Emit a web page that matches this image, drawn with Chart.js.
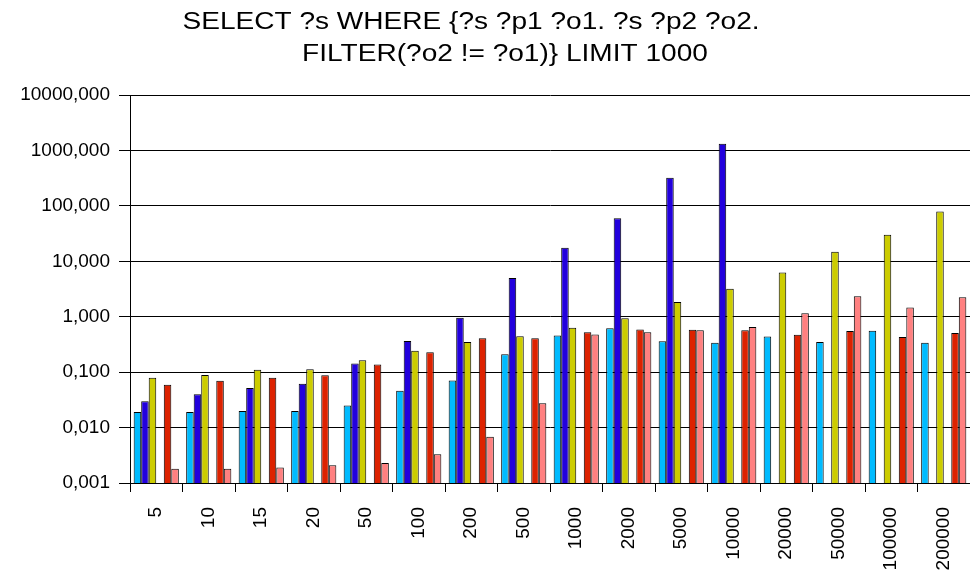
<!DOCTYPE html>
<html>
<head>
<meta charset="utf-8">
<script src="https://cdn.jsdelivr.net/npm/chart.js@4/dist/chart.umd.min.js"></script>
<style>
  body { margin: 0; background: #fff; }
  canvas { display: block; }
</style>
</head>
<body>
<canvas id="chart" width="970" height="575"></canvas>
<script>
const categories = ["5", "10", "15", "20", "50", "100", "200", "500", "1000", "2000", "5000", "10000", "20000", "50000", "100000", "200000"];

const seriesCyan = [0.019, 0.019, 0.020, 0.020, 0.025, 0.046, 0.071, 0.21, 0.46, 0.62, 0.36, 0.34, 0.44, 0.35, 0.56, 0.34];
const seriesBlue = [0.030, 0.040, 0.052, 0.062, 0.143, 0.366, 0.96, 5.0, 17.5, 60, 320, 1315, null, null, null, null];
const seriesYellow = [0.079, 0.089, 0.110, 0.113, 0.164, 0.244, 0.35, 0.445, 0.63, 0.94, 1.85, 3.2, 6.3, 14.8, 30, 79];
const seriesEmpty = [null, null, null, null, null, null, null, null, null, null, null, null, null, null, null, null];
const seriesRed = [0.059, 0.070, 0.079, 0.088, 0.137, 0.229, 0.41, 0.41, 0.525, 0.59, 0.58, 0.57, 0.475, 0.55, 0.43, 0.51];
const seriesPink = [0.0018, 0.0018, 0.0019, 0.0021, 0.0023, 0.0033, 0.0068, 0.0274, 0.48, 0.525, 0.57, 0.65, 1.16, 2.34, 1.46, 2.24];

const yTicks = [0.001, 0.01, 0.1, 1, 10, 100, 1000, 10000];

const titleLines = ["SELECT ?s WHERE {?s ?p1 ?o1. ?s ?p2 ?o2.", "FILTER(?o2 != ?o1)} LIMIT 1000"];

const bar = (data, color) => ({
  data: data,
  backgroundColor: color,
  borderColor: "#000",
  borderWidth: 1,
  categoryPercentage: 0.86,
  barPercentage: 1.0
});

// title drawn by hand (the original text is a bit stretched sideways)
const titlePlugin = {
  id: "twoLineTitle",
  afterDraw(chart) {
    const ctx = chart.ctx;
    const sx = 1.22;
    ctx.save();
    ctx.scale(sx, 1);
    ctx.fillStyle = "#000";
    ctx.font = "23px 'Liberation Sans', Arial, sans-serif";
    ctx.textAlign = "center";
    ctx.textBaseline = "middle";
    ctx.fillText(titleLines[0], 471 / sx, 23);
    ctx.fillText(titleLines[1], 505 / sx, 55);
    ctx.restore();
  }
};

const noPad = (scale) => {
  scale.paddingLeft = 0;
  scale.paddingRight = 0;
  scale.paddingTop = 0;
  scale.paddingBottom = 0;
};

new Chart(document.getElementById("chart"), {
  type: "bar",
  data: {
    labels: categories,
    datasets: [
      bar(seriesCyan, "#00BBFF"),
      bar(seriesBlue, "#2200DD"),
      bar(seriesYellow, "#CCCC00"),
      bar(seriesEmpty, "#ffffff"),
      bar(seriesRed, "#DD2200"),
      bar(seriesPink, "#FF8080")
    ]
  },
  options: {
    responsive: false,
    animation: false,
    layout: { padding: { top: 95, left: 0, right: 0, bottom: 0 } },
    plugins: {
      legend: { display: false },
      title: { display: false },
      tooltip: { enabled: false }
    },
    scales: {
      x: {
        offset: true,
        grid: { offset: true, drawOnChartArea: false, drawTicks: true, tickLength: 9, color: "#000" },
        border: { color: "#000" },
        ticks: {
          minRotation: 90,
          maxRotation: 90,
          padding: 15,
          color: "#000",
          font: { family: "'Liberation Sans', Arial, sans-serif", size: 19 }
        },
        afterFit(scale) { scale.height = 92; noPad(scale); }
      },
      y: {
        type: "logarithmic",
        min: 0.001,
        max: 10000,
        afterBuildTicks(scale) {
          scale.ticks = yTicks.map(v => ({ value: v }));
        },
        grid: { color: "#000", tickLength: 11 },
        border: { color: "#000" },
        ticks: {
          padding: 9,
          color: "#000",
          font: { family: "'Liberation Sans', Arial, sans-serif", size: 19 },
          callback: v => v.toFixed(3).replace(".", ",")
        },
        afterFit(scale) { scale.width = 130; noPad(scale); }
      }
    }
  },
  plugins: [titlePlugin]
});
</script>
</body>
</html>
